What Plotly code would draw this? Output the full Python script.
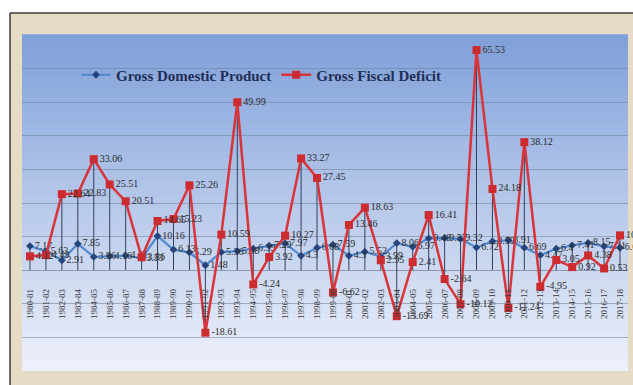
import plotly.graph_objects as go

years = ["1980-81", "1981-82", "1982-83", "1983-84", "1984-85", "1985-86", "1986-87", "1987-88",
         "1988-89", "1989-90", "1990-91", "1991-92", "1992-93", "1993-94", "1994-95", "1995-96",
         "1996-97", "1997-98", "1998-99", "1999-00", "2000-01", "2001-02", "2002-03", "2003-04",
         "2004-05", "2005-06", "2006-07", "2007-08", "2008-09", "2009-10", "2010-11", "2011-12",
         "2012-13", "2013-14", "2014-15", "2015-16", "2016-17", "2017-18"]

gdp = [7.17, 5.63, 2.91, 7.85, 3.96, 4.16, 4.31, 3.53, 10.16, 6.13, 5.29, 1.48, 5.36, 5.68,
       6.39, 7.29, 7.97, 4.30, 6.68, 7.59, 4.30, 5.52, 3.99, 8.06, 6.97, 9.48, 9.57, 9.32,
       6.72, 8.59, 8.91, 6.69, 4.47, 6.40, 7.41, 8.15, 7.11, 6.68]

gfd = [4.12, 4.49, 22.64, 22.83, 33.06, 25.51, 20.51, 3.86, 14.65, 15.23, 25.26, -18.61,
       10.59, 49.99, -4.24, 3.92, 10.27, 33.27, 27.45, -6.62, 13.46, 18.63, 2.95, -13.69,
       2.41, 16.41, -2.64, -10.12, 65.53, 24.18, -11.24, 38.12, -4.95, 3.05, 0.92, 4.38,
       0.53, 10.37]

series_names = ["Gross Domestic Product", "Gross Fiscal Deficit"]

W, H = 633, 385
ML, MR, MT, MB = 22, 5, 35, 14
PW, PH = W - ML - MR, H - MT - MB


def px2x(px):
    return (px - ML) / PW


def py2y(py):
    return (H - MB - py) / PH


fig = go.Figure()

# drop lines
dx, dy = [], []
for c, a, b in zip(years, gdp, gfd):
    dx += [c, c, None]
    dy += [min(a, b, 0), max(a, b, 0), None]
fig.add_trace(go.Scatter(x=dx, y=dy, mode="lines", line=dict(color="#34405a", width=1),
                         showlegend=False, hoverinfo="skip"))

fig.add_trace(go.Scatter(
    x=years, y=gdp, name=series_names[0], mode="lines+markers+text",
    line=dict(color="#4f8ad0", width=2.2),
    marker=dict(symbol="diamond", size=6, color="#27457a"),
    text=[f"{v:g}" for v in gdp], textposition="middle right",
    textfont=dict(family="Liberation Serif", size=10, color="#2b2b2b"),
    cliponaxis=False))

fig.add_trace(go.Scatter(
    x=years, y=gfd, name=series_names[1], mode="lines+markers+text",
    line=dict(color="#d8343a", width=2.5),
    marker=dict(symbol="square", size=8, color="#cc2b30"),
    text=[f"{v:g}" for v in gfd], textposition="middle right",
    textfont=dict(family="Liberation Serif", size=10, color="#2b2b2b"),
    cliponaxis=False))

shapes = []
# white outer strips and border
shapes.append(dict(type="rect", xref="paper", yref="paper", x0=-0.1, x1=px2x(10), y0=-0.2, y1=1.3,
                   fillcolor="white", line=dict(width=0), layer="below"))
shapes.append(dict(type="rect", xref="paper", yref="paper", x0=-0.1, x1=1.2, y0=py2y(13), y1=1.3,
                   fillcolor="white", line=dict(width=0), layer="below"))
shapes.append(dict(type="line", xref="paper", yref="paper", x0=px2x(10), x1=1.2, y0=py2y(13), y1=py2y(13),
                   line=dict(color="#3a3a3a", width=1.5), layer="below"))
shapes.append(dict(type="line", xref="paper", yref="paper", x0=px2x(10), x1=px2x(10), y0=-0.2, y1=py2y(13),
                   line=dict(color="#3a3a3a", width=1.5), layer="below"))
# gradient plot area
n = 60
top = (128, 160, 218)
bot = (236, 240, 250)
for i in range(n):
    t = i / (n - 1)
    col = tuple(int(round(top[k] + (bot[k] - top[k]) * t)) for k in range(3))
    shapes.append(dict(type="rect", xref="paper", yref="paper", x0=0, x1=1,
                       y0=1 - (i + 1) / n, y1=1 - i / n + 0.002,
                       fillcolor=f"rgb{col}", line=dict(width=0), layer="below"))

fig.update_layout(
    width=W, height=H,
    margin=dict(l=ML, r=MR, t=MT, b=MB),
    paper_bgcolor="#e6dcc6",
    plot_bgcolor="rgba(0,0,0,0)",
    shapes=shapes,
    showlegend=True,
    legend=dict(orientation="h", x=px2x(76), y=py2y(75), xanchor="left", yanchor="middle",
                bgcolor="rgba(0,0,0,0)",
                font=dict(family="Liberation Serif", size=15, color="#1f2f55", weight="bold"),
                traceorder="normal"),
    xaxis=dict(type="category", anchor="free", position=0.3, tickangle=-90,
               tickfont=dict(family="Liberation Serif", size=9, color="#3a3a3a"),
               ticklabelstandoff=16, showgrid=False, showline=False, ticks="",
               range=[-0.5, len(years) - 0.5]),
    yaxis=dict(range=[-30, 70], dtick=10, showticklabels=False, showgrid=True,
               gridcolor="rgba(110,125,150,0.55)", gridwidth=1, zeroline=True,
               zerolinecolor="rgba(110,125,150,0.7)", zerolinewidth=1),
    font=dict(family="Liberation Serif"),
)

fig.write_html("out.html")
